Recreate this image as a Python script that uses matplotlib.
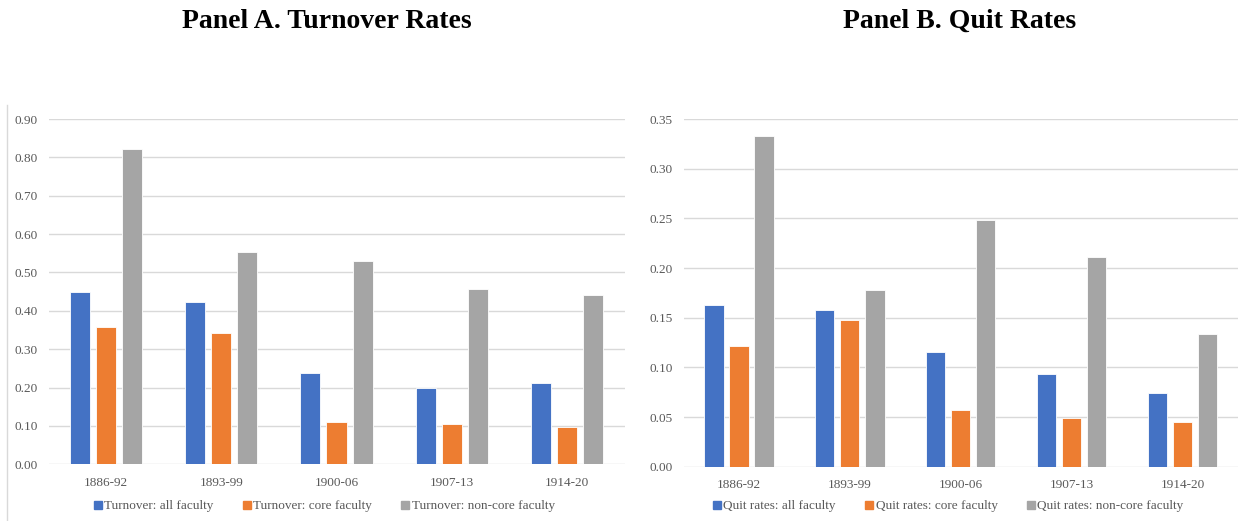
import numpy as np
import matplotlib.pyplot as plt
from matplotlib.lines import Line2D

periods = ["1886-92", "1893-99", "1900-06", "1907-13", "1914-20"]

turnover_all = [0.449, 0.423, 0.238, 0.200, 0.212]
turnover_core = [0.358, 0.343, 0.109, 0.104, 0.098]
turnover_noncore = [0.823, 0.553, 0.530, 0.457, 0.440]

quit_all = [0.163, 0.158, 0.115, 0.093, 0.074]
quit_core = [0.122, 0.148, 0.057, 0.049, 0.045]
quit_noncore = [0.333, 0.178, 0.248, 0.211, 0.134]

turnover_labels = ["Turnover: all faculty", "Turnover: core faculty", "Turnover: non-core faculty"]
quit_labels = ["Quit rates: all faculty", "Quit rates: core faculty", "Quit rates: non-core faculty"]

colors = ["#4472C4", "#ED7D31", "#A5A5A5"]
grid_col = "#D9D9D9"
text_col = "#595959"
serif = "Liberation Serif"

W, H = 1243, 521
fig = plt.figure(figsize=(W / 100, H / 100), dpi=100)


def px_axes(left, right, top, bottom):
    return fig.add_axes([left / W, (H - bottom) / H, (right - left) / W, (bottom - top) / H])


def draw_panel(ax, series, labels, ymax, step, legend_x):
    x = np.arange(len(periods))
    offs = [-0.226, 0.0, 0.226]
    handles = []
    for vals, off, c, lab in zip(series, offs, colors, labels):
        ax.bar(x + off, vals, width=0.174, color=c, edgecolor="white", linewidth=0.6, zorder=3)
        handles.append(Line2D([], [], marker="s", linestyle="none", markersize=6,
                              markerfacecolor=c, markeredgecolor=c, label=lab))
    ax.set_xlim(-0.5, len(periods) - 0.5)
    ax.set_ylim(0, ymax)
    ticks = np.arange(0, ymax + step / 2, step)
    ax.set_yticks(ticks)
    ax.set_yticklabels([f"{t:.2f}" for t in ticks])
    ax.set_xticks(x)
    ax.set_xticklabels(periods)
    ax.grid(axis="y", color=grid_col, linewidth=1.0, zorder=0)
    for s in ax.spines.values():
        s.set_visible(False)
    ax.tick_params(axis="both", length=0, colors=text_col, labelsize=9.5)
    ax.tick_params(axis="y", pad=8)
    ax.tick_params(axis="x", pad=9)
    for t in ax.get_xticklabels() + ax.get_yticklabels():
        t.set_fontfamily(serif)
    fig.legend(handles=handles, loc="center", bbox_to_anchor=(legend_x / W, (H - 506) / H),
               ncol=3, frameon=False, handlelength=0.8, handletextpad=0.1,
               columnspacing=2.1, prop={"family": serif, "size": 9.5},
               labelcolor=text_col)


ax_a = px_axes(48.5, 624.5, 119, 464.3)
draw_panel(ax_a, [turnover_all, turnover_core, turnover_noncore], turnover_labels, 0.90, 0.10, 323.5)

ax_b = px_axes(683.5, 1238, 119, 466.7)
draw_panel(ax_b, [quit_all, quit_core, quit_noncore], quit_labels, 0.35, 0.05, 947.5)

# chart frame edge on the left
fig.add_artist(Line2D([7 / W, 7 / W], [0, (H - 105) / H], color=grid_col, linewidth=1.0))

fig.text(327 / W, (H - 21) / H, "Panel A. Turnover Rates", ha="center", va="center",
         fontfamily=serif, fontweight="bold", fontsize=20)
fig.text(960 / W, (H - 21) / H, "Panel B. Quit Rates", ha="center", va="center",
         fontfamily=serif, fontweight="bold", fontsize=20)

fig.savefig("out.png", dpi=100)
